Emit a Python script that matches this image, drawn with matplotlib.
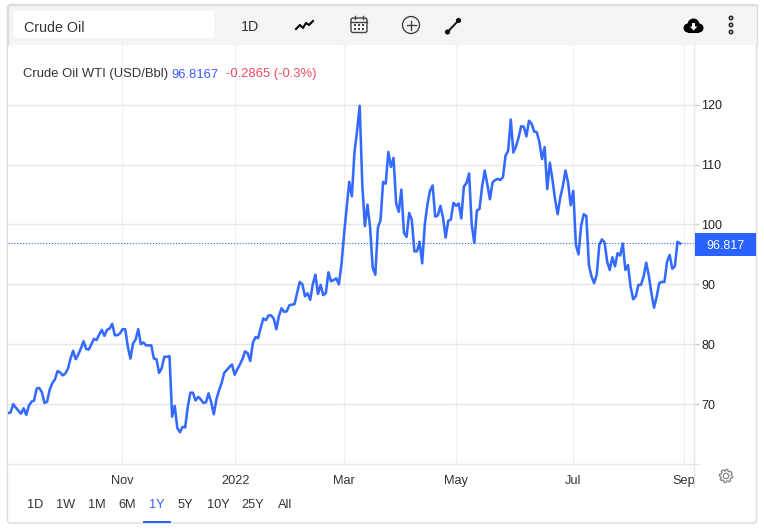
import matplotlib
matplotlib.use("Agg")
import matplotlib.pyplot as plt
from matplotlib.patches import Rectangle, FancyBboxPatch, Circle, Polygon
import numpy as np

plt.rcParams['font.family'] = ['Liberation Sans', 'DejaVu Sans']

# Daily closes, one per trading session
values_q4_2021 = [68.5, 68.6, 70.0, 69.4, 68.9, 68.4, 69.3, 68.2, 69.7, 70.4, 70.6, 72.6, 72.7, 72.0, 70.2, 70.4,
    72.4, 73.5, 74.1, 75.5, 75.3, 74.8, 75.1, 75.9, 77.6, 78.9, 77.5, 78.3, 79.3, 80.5, 79.2, 79.1, 80.0, 80.9,
    80.7, 81.6, 82.4, 81.4, 82.4, 82.6, 83.4, 81.5, 81.5, 81.8, 82.5, 82.5, 79.6, 77.6, 80.1, 80.8, 82.5, 80.0,
    80.3, 79.8, 79.8, 79.8, 77.6, 77.5, 75.2, 76.0, 77.9, 77.9, 78.0, 67.9, 69.7, 66.0, 65.3, 66.2, 66.1, 69.5,
    71.9, 71.9, 70.6, 71.2, 70.8, 70.2, 70.3, 71.8, 70.3, 68.3, 70.8, 72.3, 73.5, 75.2, 75.7, 76.2, 76.6, 74.9,
    75.8, 76.6, 77.5, 78.8, 78.5]
values_h1_2022 = [77.2, 80.2, 81.2, 81.0, 82.7, 84.3, 84.0, 84.8, 84.8, 84.3, 82.5, 84.7, 86.0, 85.4, 85.5, 86.5,
    86.6, 86.7, 88.6, 90.4, 90.0, 88.0, 88.5, 87.4, 90.0, 91.6, 88.4, 89.9, 88.2, 88.5, 92.0, 90.5, 90.7, 91.0,
    90.0, 93.3, 98.3, 102.8, 107.1, 104.7, 112.0, 115.6, 119.8, 106.7, 99.7, 103.3, 99.5, 92.8, 91.6, 99.5, 100.7,
    107.1, 106.8, 112.1, 109.6, 111.1, 103.5, 102.1, 105.8, 98.6, 97.9, 101.9, 100.8, 95.5, 95.5, 97.1, 93.5,
    100.0, 103.3, 105.6, 106.5, 101.3, 101.5, 103.1, 101.1, 97.8, 100.6, 100.8, 103.6, 103.1, 103.5, 101.0]
values_mid_2022 = [106.3, 106.9, 108.5, 100.0, 96.9, 102.3, 102.6, 106.3, 109.0, 106.7, 104.2, 107.0, 107.4, 107.6,
    107.4, 107.9, 111.5, 112.3, 117.5, 112.0, 113.0, 114.5, 116.4, 116.3, 114.7, 117.3, 116.8, 115.5, 115.4, 113.7,
    110.9, 112.9, 105.9, 110.3, 107.5, 104.2, 101.7, 104.5, 106.4, 109.0, 107.0, 103.2, 105.6, 96.6, 95.0, 99.7,
    101.7, 101.4, 93.2, 91.3, 90.2, 91.6, 96.6, 97.5, 97.0, 93.8, 92.4, 94.5, 93.0, 95.2, 94.8, 96.8, 92.4, 93.2,
    89.6, 87.5, 88.0, 89.9, 89.9, 91.3, 93.6, 91.4, 88.5, 86.1, 87.9, 90.2, 90.4, 90.4, 93.8, 94.9, 92.6, 93.0,
    97.1, 96.8167]
y_ticks = [70, 80, 90, 100, 110, 120]
month_labels = ['Nov', '2022', 'Mar', 'May', 'Jul', 'Sep']
month_sessions = [43.9, 87.3, 129.1, 172.1, 216.8, 259.6]
range_labels = ['1D', '1W', '1M', '6M', '1Y', '5Y', '10Y', '25Y', 'All']
last_price = 96.8167

prices = np.array(values_q4_2021 + values_h1_2022 + values_mid_2022)
sessions = np.arange(len(prices))

BLUE = '#2962ff'
W, H = 764, 530
fig = plt.figure(figsize=(W / 100, H / 100), dpi=100, facecolor='white')

# Main chart: pixel box x 8..694.3, y 45..464
ax = fig.add_axes([8 / W, 1 - 464 / H, 686.3 / W, 419 / H], zorder=2)
ax.set_facecolor('white')
ax.set_xlim(0, 686.3 / 2.605)
ax.set_ylim(60, 129.95)
ax.yaxis.tick_right()
ax.set_yticks(y_ticks)
ax.set_xticks(month_sessions, month_labels)
ax.grid(axis='y', color='#e6e6e6', lw=1)
ax.grid(axis='x', color='#eff1f6', lw=1)
ax.set_axisbelow(True)
for s in ('top', 'left'):
    ax.spines[s].set_visible(False)
for s in ('right', 'bottom'):
    ax.spines[s].set_color('#e6e6e6')
    ax.spines[s].set_linewidth(1)
ax.tick_params(axis='y', length=3.6, width=1, color='#cccccc', labelsize=9, labelcolor='#222222', pad=1.6)
ax.tick_params(axis='x', length=0, labelsize=9.2, labelcolor='#333333', pad=8)
ax.plot(sessions, prices, color=BLUE, lw=1.85, alpha=0.95, solid_joinstyle='round', zorder=3)
ax.axhline(last_price, color=BLUE, lw=0.8, ls=(0, (1, 1.6)), zorder=2.5)

# Overlay in pixel coordinates for the widget chrome
ov = fig.add_axes([0, 0, 1, 1], zorder=3)
ov.set_xlim(0, W)
ov.set_ylim(H, 0)
ov.axis('off')
ov.patch.set_alpha(0)

under = fig.add_axes([0, 0, 1, 1], zorder=1)
under.set_xlim(0, W)
under.set_ylim(H, 0)
under.axis('off')
under.add_patch(Rectangle((7.5, 4.5), 749, 40.5, fc='#f4f4f4', ec='none'))
under.add_patch(FancyBboxPatch((7.5, 4.5), 749, 518.5, boxstyle='round,pad=0,rounding_size=3',
                               fc='none', ec='#dcdcdc', lw=1))

# Sep label is cut off by the price axis
clip = Rectangle((0, 0), 694, H, transform=ov.transData)
for lab in ax.get_xticklabels():
    lab.set_clip_on(True)
    lab.set_clip_path(clip)

ov.plot([694.3, 694.3], [464, 487], color='#e6e6e6', lw=1)
ov.plot([694.3, 699], [464, 464], color='#e6e6e6', lw=1)
ov.add_patch(Rectangle((7.5, 4.5), 749, 40.5, fc='#f4f4f4', ec='none'))
ov.plot([7.5, 7.5, 756.5, 756.5], [45, 4.5, 4.5, 45], color='#dcdcdc', lw=1)

# Toolbar
ov.add_patch(Rectangle((14, 11), 200, 27, fc='white', ec='none'))
ov.text(24, 27.5, 'Crude Oil', fontsize=10.3, color='#333333', va='center')
ov.text(250, 27, '1D', fontsize=10.3, color='#333333', va='center', ha='center')
ov.plot([296, 300, 303, 306, 309, 313], [29, 25, 28, 23, 25, 21], color='black', lw=1.5)
ov.add_patch(FancyBboxPatch((351, 18), 16, 14.5, boxstyle='round,pad=0,rounding_size=2', fc='none', ec='#444444', lw=1))
ov.plot([351, 367], [21.5, 21.5], color='#444444', lw=1)
ov.plot([355, 355], [15.5, 18.5], color='#444444', lw=1)
ov.plot([363, 363], [15.5, 18.5], color='#444444', lw=1)
for gx in (355, 359, 363):
    for gy in (25, 29):
        ov.add_patch(Rectangle((gx - 1, gy - 1), 2, 2, fc='#444444', ec='none'))
ov.add_patch(Circle((411, 25), 8.5, fc='none', ec='#333333', lw=0.9))
ov.plot([406.5, 415.5], [25, 25], color='#333333', lw=0.9)
ov.plot([411, 411], [20.5, 29.5], color='#333333', lw=0.9)
ov.plot([447.5, 458.5], [32, 20.5], color='#111111', lw=1.4)
ov.add_patch(Circle((447.5, 32), 2.6, fc='#111111', ec='none'))
ov.add_patch(Circle((458.5, 20.5), 2.6, fc='#111111', ec='none'))
# Download cloud
for cx, cy, r in ((688, 28, 4.5), (693.5, 24.5, 6), (699, 28, 4.5)):
    ov.add_patch(Circle((cx, cy), r, fc='black', ec='none'))
ov.add_patch(Rectangle((688, 27), 11, 5.5, fc='black', ec='none'))
ov.add_patch(Rectangle((692.3, 22.5), 2.6, 4, fc='white', ec='none'))
ov.add_patch(Polygon([[689.8, 26.5], [697.4, 26.5], [693.6, 30.5]], fc='white', ec='none'))
for dy in (18, 25, 32):
    ov.add_patch(Circle((731, dy), 1.7, fc='none', ec='#222222', lw=1.1))

# Legend line
ov.text(23, 74.5, 'Crude Oil WTI (USD/Bbl)', fontsize=9.35, color='#333333', va='center')
ov.text(171, 74.5, f'{last_price:.4f}', fontsize=9.35, color='#3a5cff', va='center')
ov.text(225.5, 74.5, '-0.2865 (-0.3%)', fontsize=9.35, color='#f2495e', va='center')

# Last price tag
ov.add_patch(Rectangle((695, 233), 61, 23, fc=BLUE, ec='none'))
ov.text(725.5, 246, f'{last_price:.3f}', fontsize=9, color='white', va='center', ha='center')

# Range selector
for label, px in zip(range_labels, [35, 66, 97, 127, 157, 185, 218, 253, 285]):
    ov.text(px, 505, label, fontsize=9.2, va='center', ha='center',
            color='#3a5cff' if label == '1Y' else '#333333')
ov.add_patch(Rectangle((143, 521), 28, 2, fc=BLUE, ec='none'))

# Settings gear
teeth = 8
ang = np.linspace(0, 2 * np.pi, teeth * 8, endpoint=False)
rad = np.where((ang * teeth / (2 * np.pi)) % 1 < 0.5, 6.6, 5.2)
ov.add_patch(Polygon(np.c_[726 + rad * np.cos(ang), 476 + rad * np.sin(ang)], closed=True,
                     fc='none', ec='#888888', lw=0.9))
ov.add_patch(Circle((726, 476), 2.7, fc='none', ec='#888888', lw=0.9))

fig.savefig('out.png', dpi=100)
